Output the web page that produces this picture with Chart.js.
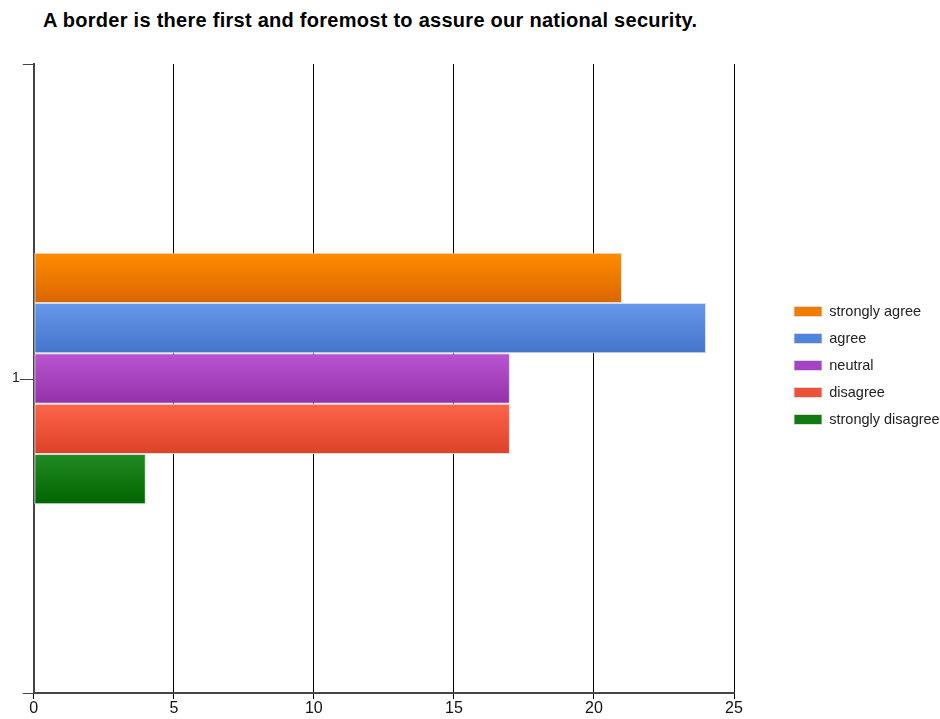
<!DOCTYPE html>
<html>
<head>
<meta charset="utf-8">
<script src="https://cdn.jsdelivr.net/npm/chart.js@4/dist/chart.umd.min.js"></script>
<style>
  html, body { margin: 0; padding: 0; background: #fff; }
  #wrap { position: relative; width: 940px; height: 719px; }
  #title {
    position: absolute; left: 43px; top: 10px;
    font: bold 20px "Liberation Sans", Arial, sans-serif;
    letter-spacing: 0.27px;
    line-height: 20px; color: #000; white-space: nowrap;
  }
  canvas { position: absolute; left: 0; top: 0; }
</style>
</head>
<body>
<div id="wrap">
  <div id="title">A border is there first and foremost to assure our national security.</div>
  <canvas id="chart" width="940" height="719"></canvas>
</div>
<script>
// survey answers for the single question row
const categories = ['1'];
const seriesNames = ['strongly agree', 'agree', 'neutral', 'disagree', 'strongly disagree'];
const seriesValues = [21, 24, 17, 17, 4];
const axisMin = 0;
const axisMax = 25;
const axisStep = 5;

// gradient ends (top, bottom) and flat swatch per answer
const gradTop = ['#ff8c00', '#6898ea', '#ba55d3', '#fd654a', '#228b22'];
const gradBottom = ['#d96600', '#4474cb', '#9432a8', '#dc4227', '#006400'];
const swatch = ['#f07d00', '#5083dc', '#a444c2', '#ec5238', '#127812'];

function barFill(i) {
  return (ctx) => {
    const el = ctx.chart.getDatasetMeta(ctx.datasetIndex).data[ctx.dataIndex];
    if (!el || !el.height || isNaN(el.y)) return swatch[i];
    const g = ctx.chart.ctx.createLinearGradient(0, el.y - el.height / 2, 0, el.y + el.height / 2);
    g.addColorStop(0, gradTop[i]);
    g.addColorStop(1, gradBottom[i]);
    return g;
  };
}

const datasets = seriesNames.map((name, i) => ({
  label: name,
  data: [seriesValues[i]],
  backgroundColor: barFill(i),
  borderColor: '#dcdcdc',
  borderWidth: 1,
  borderSkipped: false,
  categoryPercentage: 0.4,
  barPercentage: 1
}));

const legendPad = 12.5;

// small tick at the category centre, plus legend placement
const extras = {
  id: 'extras',
  beforeInit(chart) {
    const fit = chart.legend.fit;
    chart.legend.fit = function () { fit.call(this); this.width = 206; };
  },
  afterLayout(chart) {
    const dx = 60 - legendPad;
    chart.legend.left += dx;
    chart.legend.right += dx;
    chart.legend.top -= 13;
    chart.legend.bottom -= 13;
  },
  afterDraw(chart) {
    const y = chart.scales.y;
    const c = chart.ctx;
    const py = Math.round(y.getPixelForValue(0)) + 0.5;
    c.save();
    c.strokeStyle = '#444';
    c.lineWidth = 1;
    c.beginPath();
    c.moveTo(y.right - 14, py);
    c.lineTo(y.right, py);
    c.stroke();
    c.restore();
  }
};

const chart = new Chart(document.getElementById('chart').getContext('2d'), {
  type: 'bar',
  data: { labels: categories, datasets: datasets },
  options: {
    indexAxis: 'y',
    responsive: false,
    animation: false,
    layout: { padding: { top: 64, left: 9, right: 0, bottom: 0 } },
    plugins: {
      tooltip: { enabled: false },
      legend: {
        position: 'right',
        fullSize: false,
        labels: {
          boxWidth: 28,
          boxHeight: 10,
          padding: legendPad,
          color: '#222',
          font: { family: '"Liberation Sans", Arial, sans-serif', size: 14.5 },
          generateLabels(ch) {
            const items = Chart.defaults.plugins.legend.labels.generateLabels(ch);
            return items.map((it, i) => Object.assign(it, {
              fillStyle: swatch[i], strokeStyle: '#dcdcdc', lineWidth: 1
            }));
          }
        }
      }
    },
    scales: {
      x: {
        min: axisMin,
        max: axisMax,
        ticks: {
          stepSize: axisStep,
          color: '#111',
          padding: 2,
          font: { family: '"Liberation Sans", Arial, sans-serif', size: 16, lineHeight: 1 }
        },
        grid: { color: '#000', lineWidth: 1, tickLength: 6 },
        border: { color: '#444', width: 2 }
      },
      y: {
        ticks: {
          color: '#222',
          padding: 3,
          font: { family: '"Liberation Sans", Arial, sans-serif', size: 14 }
        },
        grid: { offset: true, drawOnChartArea: false, color: '#444', tickLength: 11 },
        border: { color: '#444', width: 2 }
      }
    }
  },
  plugins: [extras]
});
// second pass so the gradients follow the laid-out bars
chart.update();
</script>
</body>
</html>
